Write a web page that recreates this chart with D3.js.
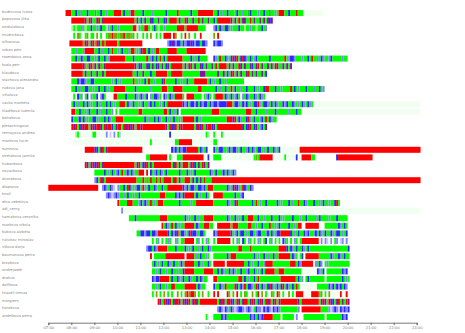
<!DOCTYPE html>
<html>
<head>
<meta charset="utf-8">
<script src="https://cdn.jsdelivr.net/npm/d3@7"></script>
<style>
  html, body { margin: 0; padding: 0; background: #fff; }
  svg { display: block; font-family: "DejaVu Sans", sans-serif; }
</style>
</head>
<body>
<svg id="chart" width="465" height="333"></svg>
<script>
// Operators, top to bottom
const operators = [
  "budnicova ivana", "popovova jitka", "sindulakova", "mudrickova", "silhanova",
  "urban petr", "rosenbova anna", "kuda petr", "klaudova", "stachova alexandra",
  "rudova jana", "vihalova", "vacka marketa", "hladikova ludmila", "bohakova",
  "plesachingova", "ternayova andrea", "markova lucie", "sumrova", "strelakova jarmila",
  "hubankova", "novackova", "dvorakova", "dlopsova", "knoll",
  "dina vebelova", "adl_cerny", "hamakova veronika", "markova nikola", "kubova alzbeta",
  "rutickov miroslav", "vlkova darja", "baumanova petra", "brzokova", "ondrejasek",
  "drahus", "dalfkova", "hrazdil tomas", "morgiern", "horakova", "andelkova petra"
];

// Activity log per operator: "HH:MM codes", one code per 5-minute slot,
// a letter followed by a number repeats that state; "." = no record.
const activity = [
  ["07:45 R3GGBGLG3BG3DGGBGGLG3", "09:50 R4GBGGLR2G4BG4LG6BG5RG6BG3R8GGBGLGGBG3", "15:05 GBGGLGGDBG3LGGBGGDGGLG", "17:00 R3GGBG3RG3W10"],
  ["08:00 R7PGRPGGPRGPR16GPGBGPGGPBGGPGGBPGR4GPGGRPGGPGGRGPGGPGGBGR7PGPGRGPPGGRGPGGPGPGPBP"],
  ["08:00 gGgGGLGgGGBGGLGBGGgLGBGGLG7RRgLGGRRGgGBGgGGLGG5R4GR6G4.4LBGBLGBBGLGGGBGGgGGLGGgGGBGL"],
  ["08:05 GWOGWWGOWGGWOWGWWGOOROOGOORGOOGOWGWWGWGWOWWGWGWR4WROWWGWRWOWWGWWRWWW4OWRW"],
  ["07:55 R7OPRGPRORPGROR6GR12.13LBPBLBBGBLBBPBLBBGBBL.3BLBBL"],
  ["08:00 GGLGGGLR5GGBGLGGBGRGGLGBGGLGRRGLGBRRGBGLGRRG4R5G5R10"],
  ["08:00 GGBGLBGGBBGGLGBGGBGLR8G4BG6RGLBGBGRGBGR8G4BGLGBG4.3BLGRGGBLGBRBRGBRBLGBGLBGG5BG6GRGLBBLGGGLGGBGRGGLGBLGGLBGGGGGLGG"],
  ["08:00 R6POGPROPGPOGPR15PGBPGGPBGPGBPGPGBPGR6GPGPRGPGGPBGPGGPGRGR4GPGPGGRPGPGGPBGPRGPGGPGPGRPGGPGPGP"],
  ["08:00 R6GPGGPGGPGGPGR14GGBGGPGGGBGGR6GGR6G9P3G6PGGPGBGPRGPGPGGPRGPGPGGPGB"],
  ["08:00 G3BLBBLGGBBG9LGBGLGGG4RGGLGGBGRGGLGGGBRGGGGGBGGLGGBGGGR7GBGLGGBGGLGGG7"],
  ["08:00 GGBGLGGBBGGLGGBGGBGLGGR6G5BG7LG4GR3G3R5G8RRG6GBGLGGBGGRGBGGLGGBGGGBGLGGBRRGGGBGGLGGGGRGBGLGGGBGGGLGGBGL"],
  ["08:05 GWBGLWGBWLGGBWLBGWW3RRG4BG4BLGBLGBWLGBBLGWBLGBLGR4GWR4G4WGLBGWGR4GBLGBGLBGWLGBLGGBLGBLG"],
  ["08:00 GBGLGGBGBGLGGBGLGGBGBGLGGR3GBLGBGGLGBGGLBGBGGLGBGR8BLBGBBLBGBLBBGBLBBLBBBBR3GBBLGBLBGLGBBRLGBBLGBGBLGGBLBGGBLGLGBLGBLGW56"],
  ["08:00 RRGGBGGLGBGGGBGLGGBGGLWGWG10RRG11RRGBGLGBWGG15R4G14R3GGBG4LG4BG6LG3BGGW62"],
  ["08:00 BGGLBGBGLGGBBGLGGBGBLGGR4G11BGLGGBGBLGGBGLGBGGLGR6GBGLGGG11R3BRGBLGGBRLGBGGLBGRGBLGG"],
  ["08:00 RPRGBRPRRGPRBRRPGRPRRBGPRRGRPRBRPGRRPR12PGRBPRGRPR6GPRBRGPRRBPGR9RRRRPGBPRGBPGLBGP"],
  ["08:05 WgGW7GGW5LWbWLWGbWW24BW18GgWWGWWWGW10"],
  ["08:05 W40GW12GGR7W11GGW17"],
  ["08:35 R5PBGPRGPR18.15BLBGBLBBR6GBLGB.3BGLBBGGLBGBBLGBGGLBGBLGBBGLGBGGBLGBW10R63"],
  ["11:15 GGR9WGWWWG3R11WWBWWG4W17GOGR7W6GW5BWWR5GG.11BR18"],
  ["08:35 RPGPRBPRGPRR15GPRGBPRGPGRR8GPRGPGR3GPRBGPGRPGP"],
  ["09:00 G5BGLGBGLBGRGLBGBLGGR3WRWBGLBGBLGBGG5BGGGBGLGBGGG5BLGBGGLBGBLGBL"],
  ["09:00 LBGRPGR16G3RGOGRGGRGRGRRRRGRRGPGGR3GPGBGPGRGGGRR108"],
  ["07:00 R26..LBLGBLbWLGGBGRBGLGBBGRLGBGGBLGGBGGR8BLBGBBLGBBLBGR3G7BLGBRBLGRBLGBL"],
  ["09:30 LBLbLBLGGLGBGGLGGBGG8GR3G5BLBGBR5GBGLGGBGWWR5G5GBGGLB"],
  ["10:00 RG4R3G3LBGBLGRGLGR3G8BGGGGGLGGR9G7BLGGBRG5GGBGRGLGGBGGGGGBGLGGGBGLGGRGGBLGGGBGGLGBGGLGGBRG"],
  ["10:10 LW155"],
  ["10:30 G3BGG11R4G9BGLGGBGLGGR5G7BLGGBGLGBGGR3GGBGGLGGGBGGGBGLGGGGBGGGLGGBGGGGLGBGGGGLGGGBGGGGG"],
  ["11:55 RGBLGRGBGLGGR5GBLGGRRRGGWWR7GR3G5RRGGLGGBGGGRGGLGBGGGGBGGLGRR..R7...G6GBLGBG"],
  ["10:50 GGBBLBBGBBLR5BGBLBRGBBLGBRBBLGBBGW4BLR7BGLBGBBGLGBBGLBBGGLBGBGLBBR5BGLGBGGBLBGGLBGBLGBGGBLGBBGLGB"],
  ["11:30 GWGLWGWGLGWWLGWGGR5WGLWGWLGWWGWR7WGWLGWBGWLGWGWLGWGBWGLWGWGWBLGWGWLGWGR9WLWLbWLWGLWbLWL"],
  ["11:15 LBBGBLR5G4BG4BGLGBGGLGBGGBLGGG8G4RRG4RG14R4BGBLGBGGBLGBG20B"],
  ["11:25 R.G6R10.R4GLGBGGLGWWG7BGR3G8GBGLGGBGLGGBGGR6GBLGWGBWR7G5GBLGGBLGBGG"],
  ["11:30 GBGLGBGGBLGBGGLBGR5GGBGLGGBGWR6.R9GGBGLGGBGGLR4G9R3GBLR6WLGBLWGLG11"],
  ["11:30 GGLGBGGLGGBGGLGGBR5G5R5GGBGBLGGBGBLGGBGGLBGGBGLGBGR5GGR3G9W8BLGBWGG7BLB"],
  ["11:30 BLBBR5GBGGBLGBGGBLGGBGBLGG...RRG11RRGBGLGGBGRGGG9R8GBGLWGBG8.G8BGLG"],
  ["11:30 GGLGBGGLGGRRG5R6GBLGGWW..BGGBLGRG4RBGBLRGBBLGRBGBLGBRBGLBGBRGBLGBGRGW9G6BLBGBLBGBL"],
  ["11:30 GWOWGWOWGWGWWOWGWORORROWGWOWWGWWRWRW4RGWOWRWGWOGWWOWGRWOWGWWOGWROWGWWOWGWR4W4R4GOWGWOW5RWWR"],
  ["11:45 RPGRPBRGPRRPGRBPRGPRPGR9GPRPGRRPBGRPGPRRGPRPGBRPGRPRGPRGPRR8PGR9GPRPGRPBGPRGPGRP"],
  ["14:20 LBLbBLGBLbLBBLbLBLbGBLLbBLBLbBLBLG9L.R10G4LbLBLbBLBLB"],
  ["13:50 GWWWG4BLBG12BLBGBLBR5G4.G6.L...G11.G8BLB"]
];

const tickLabels = ["07:00", "08:00", "09:00", "10:00", "11:00", "12:00", "13:00", "14:00",
  "15:00", "16:00", "17:00", "18:00", "19:00", "20:00", "21:00", "22:00", "23:00"];

const stateColor = {
  R: "#ff0000", G: "#00ff00", B: "#2a2aff", L: "#8484ff", b: "#c8c8ff",
  P: "#8a10a0", O: "#86a000", D: "#20c020", g: "#90ff90", W: "#f0fff0"
};

const SLOT = 5;
const toMin = s => { const [h, m] = s.split(":").map(Number); return h * 60 + m; };

function parsePiece(piece) {
  const [hm, pattern] = piece.split(" ");
  let t = toMin(hm);
  const runs = [];
  for (const [, code, count] of pattern.matchAll(/([A-Za-z.])(\d*)/g)) {
    const k = count ? +count : 1;
    if (code !== ".") {
      const last = runs[runs.length - 1];
      if (last && last.code === code && last.t1 === t) last.t1 += SLOT * k;
      else runs.push({ code, t0: t, t1: t + SLOT * k });
    }
    t += SLOT * k;
  }
  return runs;
}

const segments = activity.flatMap((pieces, i) =>
  pieces.flatMap(p => parsePiece(p).map(r => ({ ...r, who: operators[i] }))));

const svg = d3.select("#chart");

const x = d3.scaleLinear()
  .domain([toMin(tickLabels[0]), toMin(tickLabels[tickLabels.length - 1])])
  .range([48.3, 416.7]);

const y = d3.scaleBand()
  .domain(operators)
  .range([9.2, 320.8])
  .paddingInner(0.21)
  .paddingOuter(0.105);

// Operator names
svg.append("g")
  .selectAll("text")
  .data(operators)
  .join("text")
  .attr("x", 2)
  .attr("y", d => y(d) + y.bandwidth() / 2 - 1.3)
  .attr("dominant-baseline", "middle")
  .attr("font-size", 3.7)
  .attr("fill", "#8a8a8a")
  .text(d => d);

// Activity segments
svg.append("g")
  .selectAll("rect")
  .data(segments)
  .join("rect")
  .attr("x", d => x(d.t0))
  .attr("y", d => y(d.who))
  .attr("width", d => x(d.t1) - x(d.t0))
  .attr("height", y.bandwidth())
  .attr("fill", d => stateColor[d.code]);

// Time axis
const axis = d3.axisBottom(x)
  .tickValues(tickLabels.map(toMin))
  .tickFormat((d, i) => tickLabels[i])
  .tickSize(2.5)
  .tickPadding(1.5);

const gx = svg.append("g")
  .attr("transform", "translate(0,322.7)")
  .call(axis);
gx.select(".domain").attr("stroke", "#555").attr("stroke-width", 0.8);
gx.selectAll(".tick line").attr("stroke", "#555").attr("stroke-width", 0.8);
gx.selectAll(".tick text")
  .attr("font-size", 3.7)
  .attr("fill", "#777")
  .attr("font-family", "DejaVu Sans, sans-serif");
</script>
</body>
</html>
